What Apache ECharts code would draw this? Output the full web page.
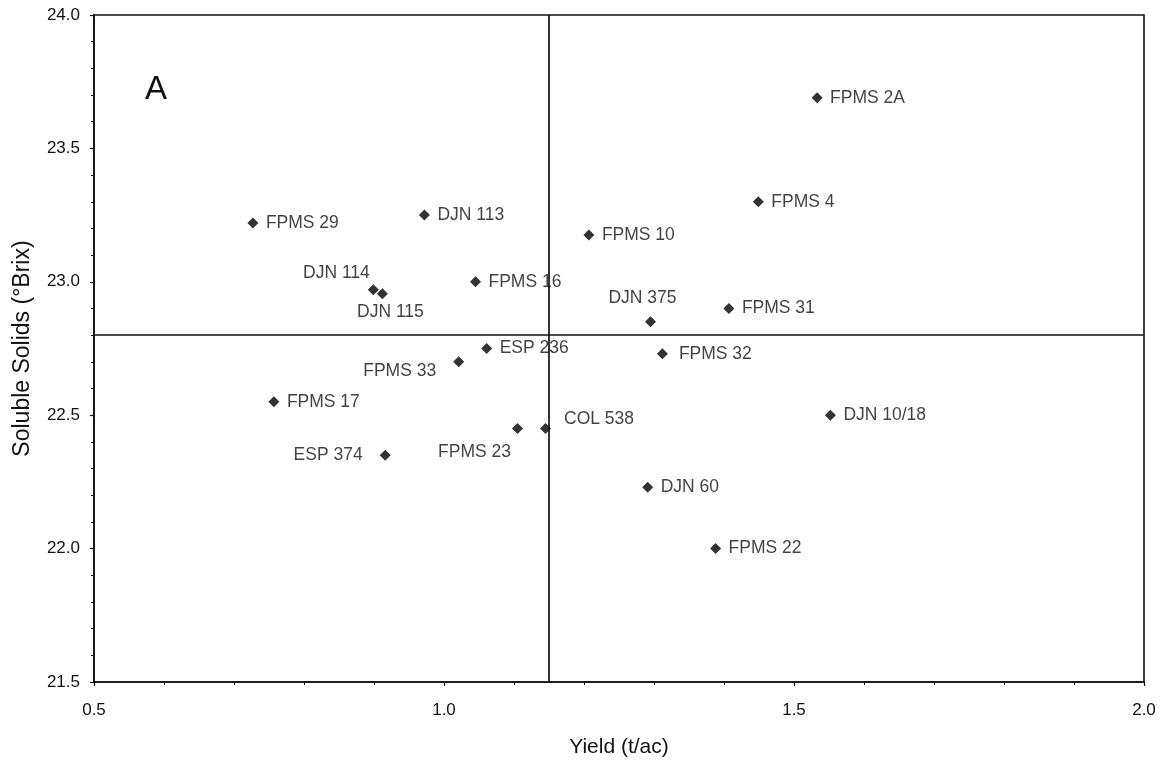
<!DOCTYPE html>
<html>
<head>
<meta charset="utf-8">
<script src="https://cdn.jsdelivr.net/npm/echarts@6/dist/echarts.min.js"></script>
<style>
html,body{margin:0;padding:0;background:#fff;}
#chart{width:1162px;height:765px;}
</style>
</head>
<body>
<div id="chart"></div>
<script>
// ---- data ----
const cultivars = ["FPMS 2A","FPMS 4","FPMS 29","DJN 113","FPMS 10","FPMS 16","DJN 114","DJN 115","DJN 375","FPMS 31","ESP 236","FPMS 33","FPMS 32","FPMS 17","DJN 10/18","FPMS 23","COL 538","ESP 374","DJN 60","FPMS 22"];
const yieldValues = [1.533,1.449,0.727,0.972,1.207,1.045,0.899,0.912,1.295,1.407,1.061,1.021,1.312,0.757,1.552,1.105,1.145,0.916,1.291,1.388];
const solidsValues = [23.69,23.30,23.22,23.25,23.175,23.00,22.97,22.955,22.85,22.90,22.75,22.70,22.73,22.55,22.50,22.45,22.45,22.35,22.23,22.00];
const meanYield = 1.15;
const meanSolids = 22.8;
const xTicks = [0.5, 1.0, 1.5, 2.0];
const yTicks = [21.5, 22.0, 22.5, 23.0, 23.5, 24.0];

// ---- label placement (layout only) ----
const labelPlacement = {
  "DJN 114": {position:'left', distance:0, offset:[2,-17]},
  "DJN 115": {position:'bottom', distance:4, offset:[8,0]},
  "DJN 375": {position:'top', distance:9, offset:[-8,0]},
  "FPMS 33": {position:'left', distance:17, offset:[0,9]},
  "FPMS 23": {position:'left', distance:1, offset:[0,24]},
  "COL 538": {position:'right', distance:13, offset:[0,-9]},
  "ESP 374": {position:'left', distance:17, offset:[0,0]},
  "FPMS 32": {position:'right', distance:11, offset:[0,0]}
};

const FONT = '"Liberation Sans", Arial, sans-serif';
const INK = '#111111';

const points = cultivars.map((name, i) => {
  const p = labelPlacement[name] || {position:'right', distance:7.5, offset:[0,0]};
  return {
    name: name,
    value: [yieldValues[i], solidsValues[i]],
    label: {show:true, formatter:name, position:p.position, distance:p.distance, offset:p.offset}
  };
});

const chart = echarts.init(document.getElementById('chart'), null, {renderer:'canvas'});
chart.setOption({
  animation:false,
  backgroundColor:'#ffffff',
  title:{
    text:'A', left:140, top:68,
    textStyle:{fontFamily:FONT, fontSize:33, fontWeight:'normal', color:INK}
  },
  grid:{left:94, right:18, top:15, bottom:83, show:true, borderColor:INK, borderWidth:1.6, backgroundColor:'transparent'},
  xAxis:{
    type:'value', min:xTicks[0], max:xTicks[xTicks.length-1], interval:0.5,
    name:'Yield (t/ac)', nameLocation:'middle', nameGap:55,
    nameTextStyle:{fontFamily:FONT, fontSize:21, color:INK},
    axisLine:{show:true, onZero:false, lineStyle:{color:INK, width:1.6}},
    axisTick:{show:true, inside:false, length:4, lineStyle:{color:INK, width:1.2}},
    minorTick:{show:true, splitNumber:5, length:3, lineStyle:{color:INK, width:1}},
    splitLine:{show:false},
    axisLabel:{fontFamily:FONT, fontSize:17, color:INK, margin:20, formatter:v=>v.toFixed(1)}
  },
  yAxis:{
    type:'value', min:yTicks[0], max:yTicks[yTicks.length-1], interval:0.5,
    name:'Soluble Solids (°Brix)', nameLocation:'middle', nameGap:60, nameRotate:90,
    nameTextStyle:{fontFamily:FONT, fontSize:23, color:INK},
    axisLine:{show:true, onZero:false, lineStyle:{color:INK, width:1.6}},
    axisTick:{show:true, inside:false, length:4, lineStyle:{color:INK, width:1.2}},
    minorTick:{show:true, splitNumber:5, length:3, lineStyle:{color:INK, width:1}},
    splitLine:{show:false},
    axisLabel:{fontFamily:FONT, fontSize:17, color:INK, margin:14, formatter:v=>v.toFixed(1)}
  },
  series:[{
    type:'scatter',
    symbol:'diamond',
    symbolSize:11,
    itemStyle:{color:'#000'},
    label:{fontFamily:FONT, fontSize:17.5, color:INK},
    data:points,
    markLine:{
      silent:true, symbol:'none', animation:false,
      label:{show:false},
      lineStyle:{color:INK, width:1.7, type:'solid'},
      data:[{xAxis:meanYield},{yAxis:meanSolids}]
    },
    z:3
  }]
});
</script>
</body>
</html>
